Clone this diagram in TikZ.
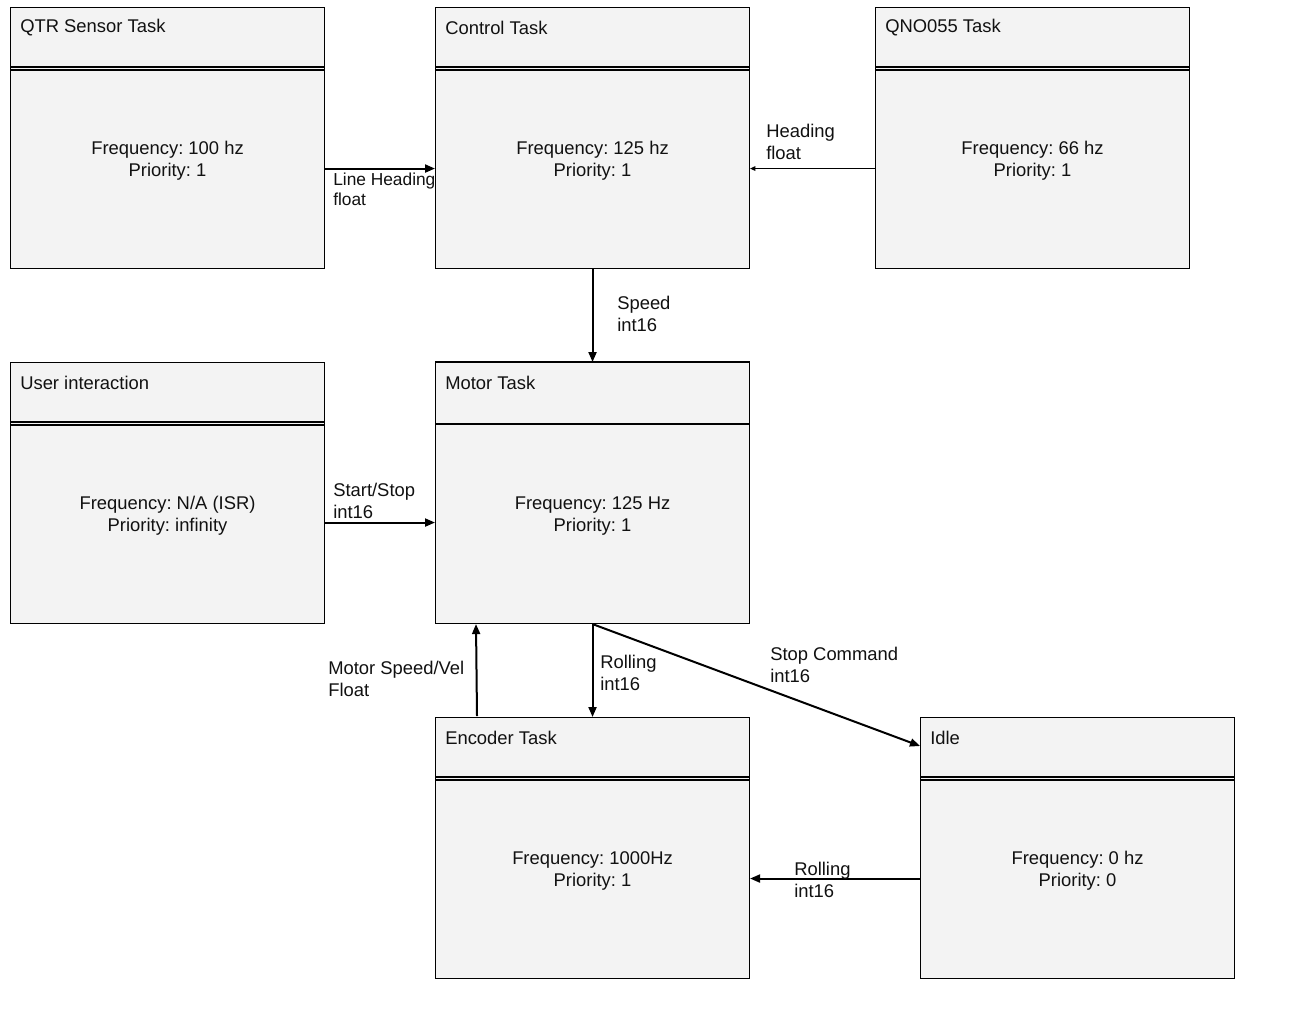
\documentclass[tikz,border=0pt]{standalone}
\usepackage{fontspec}
\setmainfont{Liberation Sans}
\usetikzlibrary{calc,arrows.meta}
\frenchspacing
\definecolor{boxfill}{HTML}{F3F3F3}
\definecolor{ink}{HTML}{111111}
\tikzset{
  box/.style={draw=black, line width=0.8pt, fill=boxfill, minimum width=235.5pt, minimum height=195.75pt, inner sep=0pt, anchor=north west},
  ttl/.style={font=\fontsize{13.8}{16.5}\selectfont, text=ink, inner sep=0pt, anchor=west},
  bodytxt/.style={font=\fontsize{13.8}{16.5}\selectfont, text=ink, inner sep=0pt, align=center},
  elabel/.style={font=\fontsize{13.8}{16.5}\selectfont, text=ink, inner sep=0pt, align=left, anchor=west},
  sep/.style={draw=black, line width=0.8pt},
  flow/.style={draw=black, line width=1.5pt, -{Triangle[length=7.5pt,width=6pt]}},
  thinflow/.style={draw=black, line width=0.75pt, -{Triangle[length=4pt,width=3.5pt]}}
}
\newcommand\taskbox[5]{%
  \node[box] (#1) at (#2,#3) {};
  \node[ttl] (#1-t) at ($(#1.north west)+(10,21)$) {#4};
  \node[bodytxt] (#1-b) at ($(#1.north)+(0,154)$) {#5};
}
\newcommand\dblsep[1]{%
  \draw[sep] ($(#1.north west)+(0,60)$) -- ($(#1.north east)+(0,60)$);
  \draw[sep] ($(#1.north west)+(0,63)$) -- ($(#1.north east)+(0,63)$);
}
\begin{document}
\begin{tikzpicture}[x=0.75pt,y=-0.75pt]
\useasboundingbox (0,0) rectangle (1299,1008);
\fill[white] (0,0) rectangle (1299,1008);

\taskbox{qtr}{10}{7}{QTR Sensor Task}{Frequency: 100 hz\\Priority: 1}
\taskbox{ctrl}{435}{7}{Control Task}{Frequency: 125 hz\\Priority: 1}
\taskbox{qno}{875}{7}{QNO055 Task}{Frequency: 66 hz\\Priority: 1}
\taskbox{user}{10}{362}{User interaction}{Frequency: N/A (ISR)\\Priority: infinity}
\taskbox{motor}{435}{362}{Motor Task}{Frequency: 125 Hz\\Priority: 1}
\taskbox{enc}{435}{717}{Encoder Task}{Frequency: 1000Hz\\Priority: 1}
\taskbox{idle}{920}{717}{Idle}{Frequency: 0 hz\\Priority: 0}

\dblsep{qtr}
\dblsep{ctrl}
\dblsep{qno}
\dblsep{user}
\dblsep{enc}
\dblsep{idle}
\draw[sep] ($(motor.north west)+(0,62)$) -- ($(motor.north east)+(0,62)$);
\draw[black, line width=1.5pt] (motor.north west) -- (motor.north east);

% connectors
\draw[flow] ($(qtr.east)+(0,30.5)$) -- ($(ctrl.west)+(0,30.5)$);
\draw[thinflow] ($(qno.west)+(0,30.5)$) -- ($(ctrl.east)+(0,30.5)$);
\draw[flow] (ctrl.south) -- (motor.north);
\draw[flow] ($(user.east)+(0,29.5)$) -- ($(motor.west)+(0,29.5)$);
\draw[flow] ($(enc.north west)+(42,-1)$) -- ($(motor.south west)+(41,0)$);
\draw[flow] (motor.south) -- (enc.north);
\draw[flow] (motor.south) -- ($(idle.north west)+(0,29)$);
\draw[flow] ($(idle.west)+(0,30.5)$) -- ($(enc.east)+(0,30.5)$);

% labels
\node[elabel, font=\fontsize{13}{15}\selectfont] (l1) at (333,189) {Line Heading\\float};
\node[elabel] (l2) at (766,142) {Heading\\float};
\node[elabel] (l3) at (617,313.5) {Speed\\int16};
\node[elabel] (l4) at (333,501) {Start/Stop\\int16};
\node[elabel] (l5) at (328,679) {Motor Speed/Vel\\Float};
\node[elabel] (l6) at (600,673) {Rolling\\int16};
\node[elabel] (l7) at (770,665) {Stop Command\\int16};
\node[elabel] (l8) at (794,880) {Rolling\\int16};
\end{tikzpicture}
\end{document}
